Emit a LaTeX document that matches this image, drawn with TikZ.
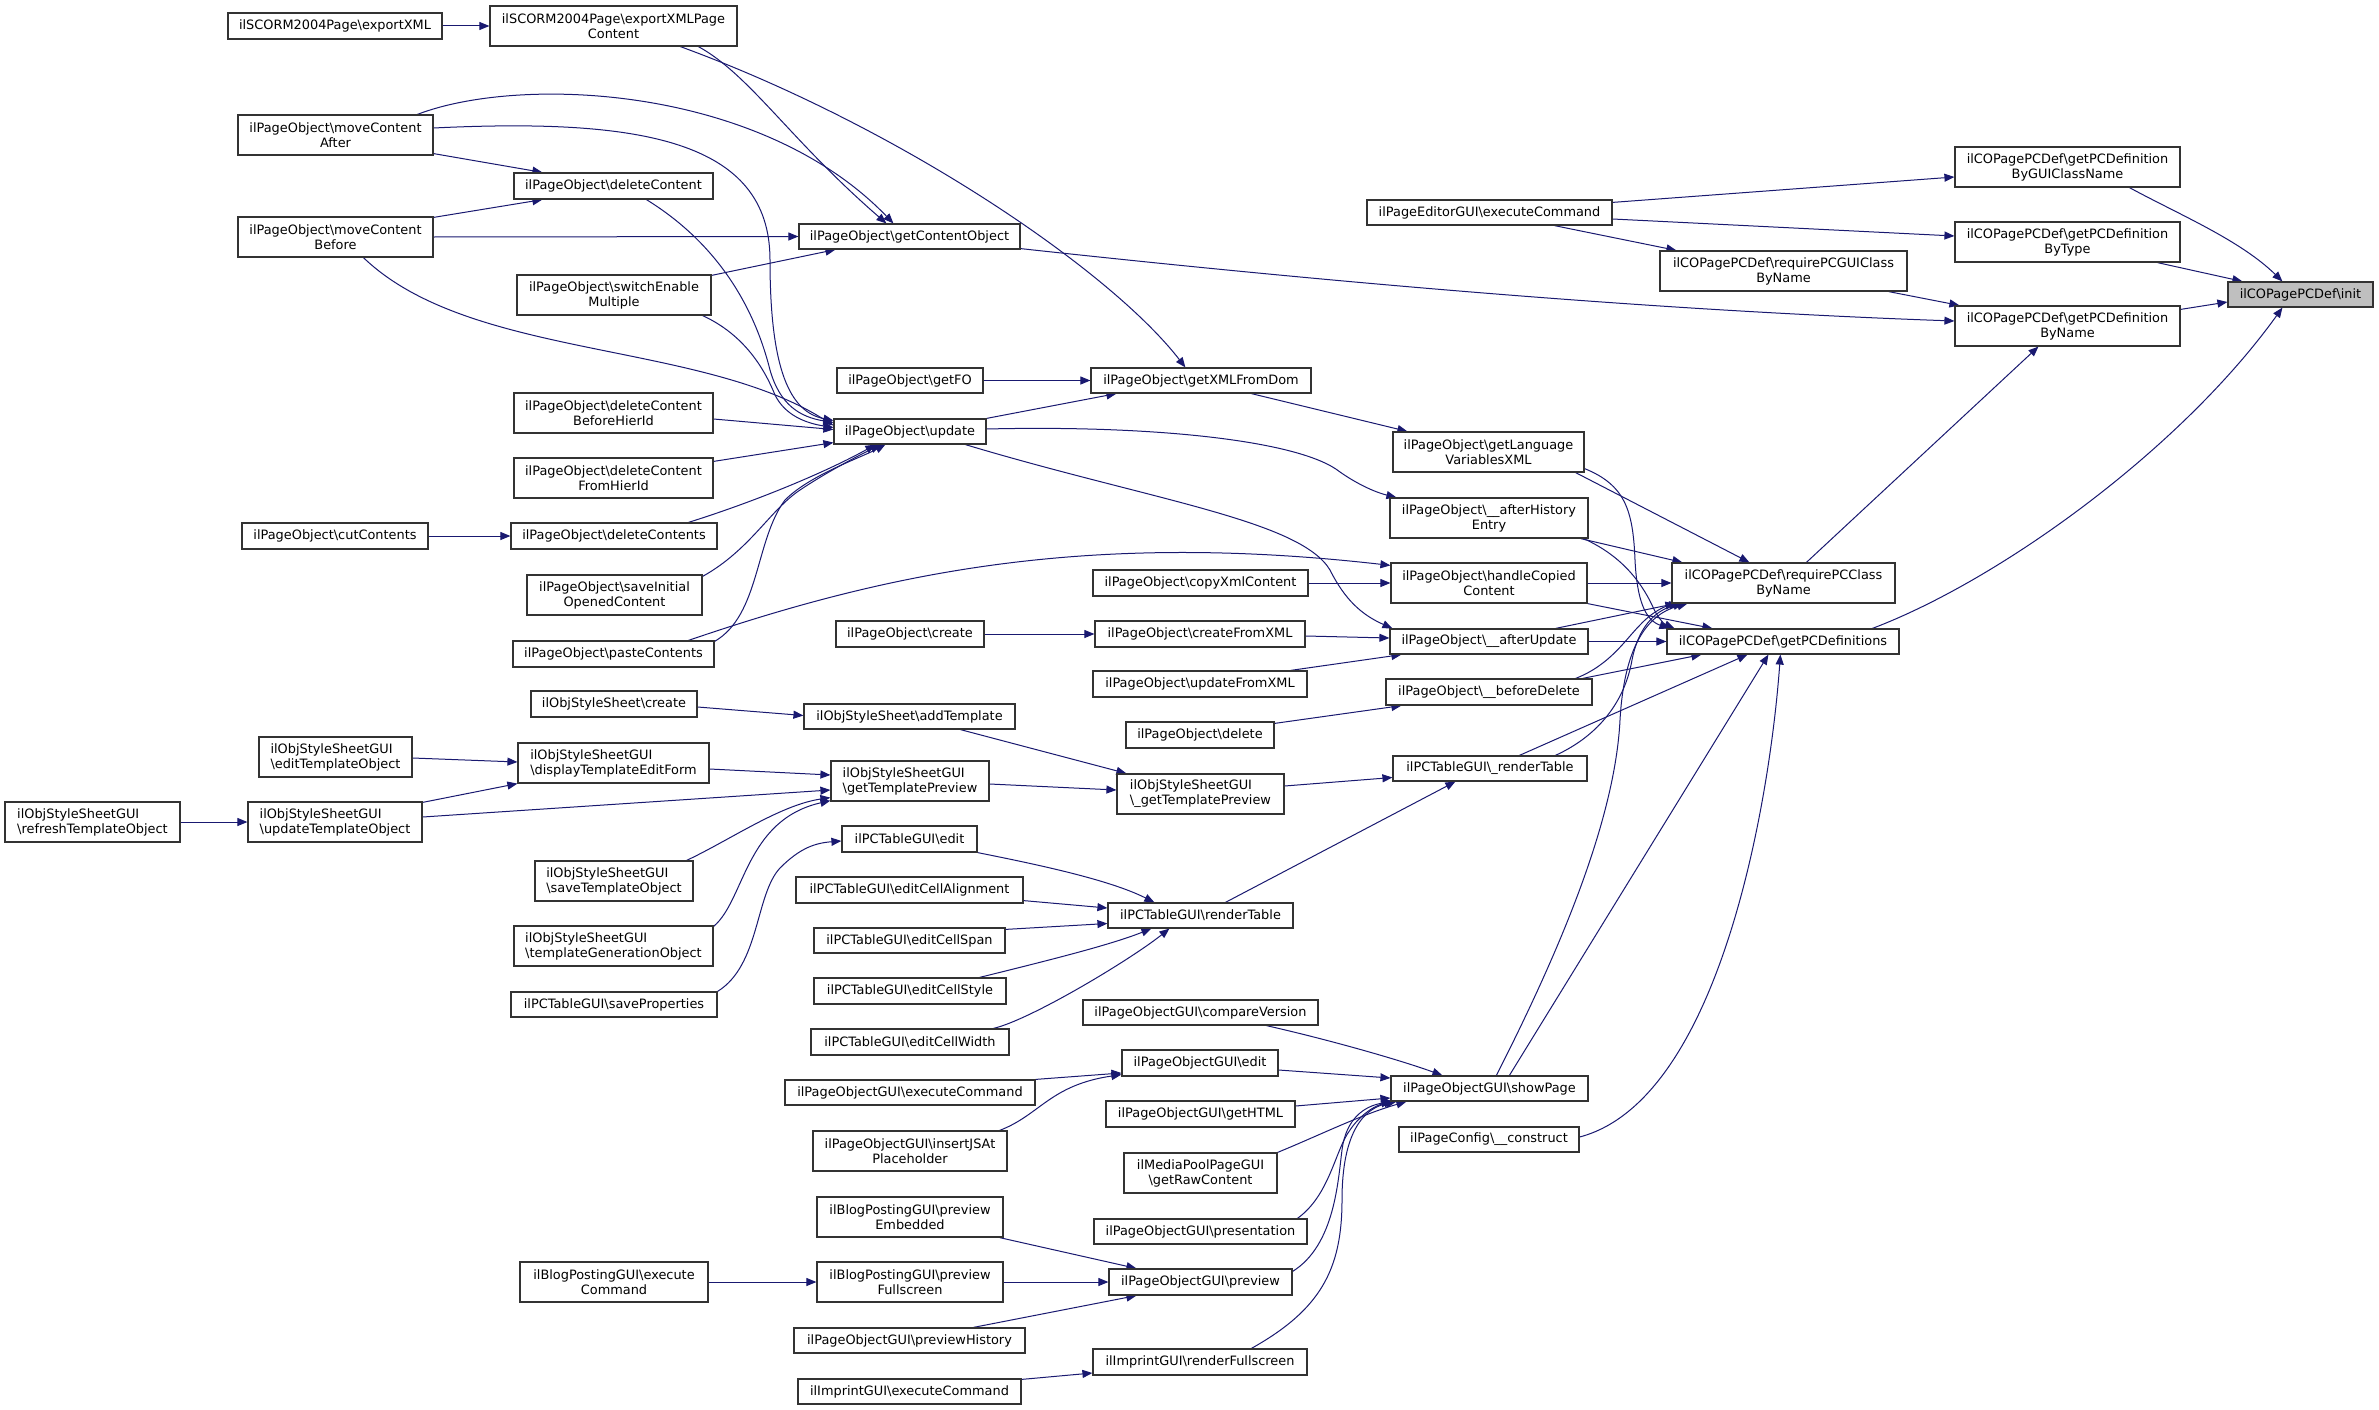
\documentclass[tikz,border=0pt]{standalone}
\usepackage{fontspec}
\setmainfont{DejaVu Sans}
\usetikzlibrary{arrows.meta,calc,backgrounds}
\definecolor{edgecol}{HTML}{191970}
\definecolor{boxgray}{HTML}{BFBFBF}
\newcommand\bks{\textbackslash}
\begin{document}
\begin{tikzpicture}[x=1pt,y=-1pt,
  box/.style={draw=black!80, line width=1.2pt, fill=white, inner sep=0pt, align=center, font=\fontsize{12.9}{15}\selectfont},
  sz/.style 2 args={minimum width=#1pt, minimum height=#2pt},
  ed/.style={draw=edgecol, line width=1pt, -{Triangle[length=10pt,width=8pt]}}]
\useasboundingbox (0,0) rectangle (2379,1410);
% column B
\node[box,sz={214}{26}] (exportXML) at (335,26) {ilSCORM2004Page\bks exportXML};
\node[box,sz={195}{40}] (mcAfter) at (335.5,135) {ilPageObject\bks moveContent\\After};
\node[box,sz={195}{40}] (mcBefore) at (335.5,237) {ilPageObject\bks moveContent\\Before};
\node[box,sz={186}{26}] (cutContents) at (335,536) {ilPageObject\bks cutContents};
\node[box,sz={153}{40},align=left] (editTO) at (335.5,757) {ilObjStyleSheetGUI\\\bks editTemplateObject};
\node[box,sz={174}{40},align=left] (updateTO) at (335,822) {ilObjStyleSheetGUI\\\bks updateTemplateObject};
\node[box,sz={175}{40},align=left] (refreshTO) at (92.5,822) {ilObjStyleSheetGUI\\\bks refreshTemplateObject};
% column C
\node[box,sz={247}{40}] (exportXMLPC) at (613.5,26) {ilSCORM2004Page\bks exportXMLPage\\Content};
\node[box,sz={199}{26}] (delContent) at (613.5,186) {ilPageObject\bks deleteContent};
\node[box,sz={194}{40}] (switchEM) at (614,295) {ilPageObject\bks switchEnable\\Multiple};
\node[box,sz={199}{40}] (dcBHI) at (613.5,413) {ilPageObject\bks deleteContent\\BeforeHierId};
\node[box,sz={199}{40}] (dcFHI) at (613.5,478) {ilPageObject\bks deleteContent\\FromHierId};
\node[box,sz={206}{26}] (delContents) at (614,536) {ilPageObject\bks deleteContents};
\node[box,sz={175}{40}] (saveInit) at (614.5,595) {ilPageObject\bks saveInitial\\OpenedContent};
\node[box,sz={201}{26}] (pasteContents) at (613.5,654) {ilPageObject\bks pasteContents};
\node[box,sz={166}{26}] (ossCreate) at (614,704) {ilObjStyleSheet\bks create};
\node[box,sz={191}{40},align=left] (dispTEF) at (613.5,763) {ilObjStyleSheetGUI\\\bks displayTemplateEditForm};
\node[box,sz={158}{40},align=left] (saveTO) at (614,881) {ilObjStyleSheetGUI\\\bks saveTemplateObject};
\node[box,sz={199}{40},align=left] (tplGen) at (613.5,946) {ilObjStyleSheetGUI\\\bks templateGenerationObject};
\node[box,sz={206}{25}] (saveProps) at (614,1004.5) {ilPCTableGUI\bks saveProperties};
\node[box,sz={188}{40}] (blogExec) at (614,1282) {ilBlogPostingGUI\bks execute\\Command};
% column D
\node[box,sz={221}{25}] (getContentObject) at (909.5,236.5) {ilPageObject\bks getContentObject};
\node[box,sz={146}{25}] (getFO) at (910,380.5) {ilPageObject\bks getFO};
\node[box,sz={152}{25}] (update) at (910,431.5) {ilPageObject\bks update};
\node[box,sz={148}{26}] (poCreate) at (910,634) {ilPageObject\bks create};
\node[box,sz={211}{25}] (addTemplate) at (909.5,716.5) {ilObjStyleSheet\bks addTemplate};
\node[box,sz={158}{40},align=left] (getTP) at (910,781) {ilObjStyleSheetGUI\\\bks getTemplatePreview};
\node[box,sz={135}{26}] (pctEdit) at (909.5,839) {ilPCTableGUI\bks edit};
\node[box,sz={227}{26}] (editCellAlign) at (909.5,890) {ilPCTableGUI\bks editCellAlignment};
\node[box,sz={191}{25}] (editCellSpan) at (909.5,940.5) {ilPCTableGUI\bks editCellSpan};
\node[box,sz={192}{26}] (editCellStyle) at (910,991) {ilPCTableGUI\bks editCellStyle};
\node[box,sz={198}{26}] (editCellWidth) at (910,1042) {ilPCTableGUI\bks editCellWidth};
\node[box,sz={250}{25}] (pogExec) at (910,1092.5) {ilPageObjectGUI\bks executeCommand};
\node[box,sz={194}{40}] (insertJS) at (910,1151) {ilPageObjectGUI\bks insertJSAt\\Placeholder};
\node[box,sz={186}{40}] (prevEmb) at (910,1217) {ilBlogPostingGUI\bks preview\\Embedded};
\node[box,sz={186}{40}] (prevFull) at (910,1282) {ilBlogPostingGUI\bks preview\\Fullscreen};
\node[box,sz={231}{25}] (prevHist) at (909.5,1340.5) {ilPageObjectGUI\bks previewHistory};
\node[box,sz={223}{25}] (imprExec) at (909.5,1391.5) {ilImprintGUI\bks executeCommand};
% column E
\node[box,sz={220}{25}] (getXMLFromDom) at (1201,380.5) {ilPageObject\bks getXMLFromDom};
\node[box,sz={215}{26}] (copyXml) at (1200.5,583) {ilPageObject\bks copyXmlContent};
\node[box,sz={210}{26}] (createFromXML) at (1200,634) {ilPageObject\bks createFromXML};
\node[box,sz={214}{26}] (updateFromXML) at (1200,684) {ilPageObject\bks updateFromXML};
\node[box,sz={148}{26}] (poDelete) at (1200,735) {ilPageObject\bks delete};
\node[box,sz={167}{40},align=left] (getTPu) at (1200.5,794) {ilObjStyleSheetGUI\\\bks\_getTemplatePreview};
\node[box,sz={185}{25}] (renderTable) at (1200.5,915.5) {ilPCTableGUI\bks renderTable};
\node[box,sz={235}{25}] (compareVersion) at (1200.5,1012.5) {ilPageObjectGUI\bks compareVersion};
\node[box,sz={156}{26}] (pogEdit) at (1200,1063) {ilPageObjectGUI\bks edit};
\node[box,sz={189}{26}] (getHTML) at (1200.5,1114) {ilPageObjectGUI\bks getHTML};
\node[box,sz={153}{40}] (getRawContent) at (1200.5,1173) {ilMediaPoolPageGUI\\\bks getRawContent};
\node[box,sz={213}{25}] (presentation) at (1200.5,1231.5) {ilPageObjectGUI\bks presentation};
\node[box,sz={183}{26}] (preview) at (1200.5,1282) {ilPageObjectGUI\bks preview};
\node[box,sz={214}{26}] (renderFullscreen) at (1200,1362) {ilImprintGUI\bks renderFullscreen};
% column F
\node[box,sz={245}{25}] (pedExec) at (1489.5,212.5) {ilPageEditorGUI\bks executeCommand};
\node[box,sz={191}{40}] (getLangVars) at (1488.5,452) {ilPageObject\bks getLanguage\\VariablesXML};
\node[box,sz={198}{40}] (afterHistory) at (1489,518) {ilPageObject\bks\_\_afterHistory\\Entry};
\node[box,sz={196}{40}] (handleCopied) at (1489,583) {ilPageObject\bks handleCopied\\Content};
\node[box,sz={198}{25}] (afterUpdate) at (1489,641.5) {ilPageObject\bks\_\_afterUpdate};
\node[box,sz={206}{26}] (beforeDelete) at (1489,692) {ilPageObject\bks\_\_beforeDelete};
\node[box,sz={194}{25}] (renderTableU) at (1490,768.5) {ilPCTableGUI\bks\_renderTable};
\node[box,sz={197}{25}] (showPage) at (1489.5,1088.5) {ilPageObjectGUI\bks showPage};
\node[box,sz={180}{25}] (pageConfig) at (1489,1139.5) {ilPageConfig\bks\_\_construct};
% column G
\node[box,sz={247}{40}] (reqPCGUI) at (1783.5,271) {ilCOPagePCDef\bks requirePCGUIClass\\ByName};
\node[box,sz={223}{40}] (reqPCClass) at (1783.5,583) {ilCOPagePCDef\bks requirePCClass\\ByName};
\node[box,sz={232}{25}] (getPCDefs) at (1783,641.5) {ilCOPagePCDef\bks getPCDefinitions};
% column H
\node[box,sz={225}{40}] (byGUI) at (2067.5,167) {ilCOPagePCDef\bks getPCDefinition\\ByGUIClassName};
\node[box,sz={225}{40}] (byType) at (2067.5,242) {ilCOPagePCDef\bks getPCDefinition\\ByType};
\node[box,sz={225}{40}] (byName) at (2067.5,326) {ilCOPagePCDef\bks getPCDefinition\\ByName};
% target
\node[box,sz={145}{25},fill=boxgray] (init) at (2300.5,294.5) {ilCOPagePCDef\bks init};

\begin{pgfonlayer}{background}
\fill[white] (0,0) rectangle (2379,1410);
\draw[ed] (exportXML.east) -- (exportXMLPC.west);
\draw[ed] ($(exportXMLPC.south west)+(209,0)$) .. controls (750,75) and (790,140) .. ($(getContentObject.north west)+(88,0)$);
\draw[ed] ($(exportXMLPC.south west)+(191,0)$) .. controls (900,127) and (1110,270) .. ($(getXMLFromDom.north west)+(95,0)$);
\draw[ed] ($(mcAfter.north west)+(180,0)$) .. controls (520,75) and (760,85) .. ($(getContentObject.north west)+(95,0)$);
\draw[ed] ($(mcAfter.east)+(0,-7)$) .. controls (640,118) and (770,140) .. (770,260) .. controls (770,370) and (790,412) .. ($(update.west)+(0,-11)$);
\draw[ed] ($(mcAfter.south east)+(0,-2)$) -- ($(delContent.north west)+(29,0)$);
\draw[ed] ($(mcBefore.north east)+(0,1)$) -- ($(delContent.south west)+(29,0)$);
\draw[ed] (mcBefore.east) -- (getContentObject.west);
\draw[ed] ($(mcBefore.south west)+(126,0)$) .. controls (470,360) and (700,340) .. ($(update.west)+(0,-6)$);
\draw[ed] ($(delContent.south west)+(133,0)$) .. controls (720,245) and (755,310) .. (770,370) .. controls (780,405) and (800,417) .. ($(update.west)+(0,-9)$);
\draw[ed] ($(switchEM.north east)+(0,1)$) -- ($(getContentObject.south west)+(37,0)$);
\draw[ed] ($(switchEM.south east)+(-9,0)$) .. controls (745,335) and (765,370) .. (775,395) .. controls (785,415) and (805,423) .. ($(update.west)+(0,-4)$);
\draw[ed] ($(dcBHI.east)+(0,6)$) -- ($(update.west)+(0,-2)$);
\draw[ed] ($(dcFHI.north east)+(0,4)$) -- ($(update.south west)+(0,-2)$);
\draw[ed] (cutContents.east) -- (delContents.west);
\draw[ed] ($(delContents.north west)+(178,0)$) .. controls (760,500) and (830,470) .. ($(update.south west)+(42,0)$);
\draw[ed] ($(saveInit.north east)+(0,2)$) .. controls (750,550) and (770,510) .. (800,490) .. controls (830,470) and (860,455) .. ($(update.south west)+(47,0)$);
\draw[ed] ($(pasteContents.north east)+(0,1)$) .. controls (760,615) and (755,540) .. (785,500) .. controls (810,475) and (860,458) .. ($(update.south west)+(52,0)$);
\draw[ed] ($(pasteContents.north west)+(176,0)$) .. controls (880,575) and (1080,530) .. ($(handleCopied.north west)+(0,3)$);
\draw[ed] (getFO.east) -- (getXMLFromDom.west);
\draw[ed] (update.north east) -- ($(getXMLFromDom.south west)+(26,0)$);
\draw[ed] ($(update.east)+(0,-2.5)$) .. controls (1150,425) and (1300,440) .. (1340,472) .. controls (1360,486) and (1378,493) .. ($(afterHistory.north west)+(7,0)$);
\draw[ed] ($(update.south west)+(132,0)$) .. controls (1150,500) and (1300,520) .. (1330,570) .. controls (1345,600) and (1362,615) .. ($(afterUpdate.north west)+(3,0)$);
\draw[ed] ($(getXMLFromDom.south west)+(161,0)$) -- ($(getLangVars.north west)+(15,0)$);
\draw[ed] (copyXml.east) -- (handleCopied.west);
\draw[ed] (poCreate.east) -- (createFromXML.west);
\draw[ed] ($(createFromXML.east)+(0,2)$) -- ($(afterUpdate.west)+(0,-3.5)$);
\draw[ed] ($(updateFromXML.north east)+(-17,0)$) -- ($(afterUpdate.south west)+(12,0)$);
\draw[ed] ($(poDelete.north east)+(0,2)$) -- ($(beforeDelete.south west)+(16,0)$);
\draw[ed] ($(ossCreate.east)+(0,3)$) -- ($(addTemplate.west)+(0,-1)$);
\draw[ed] ($(addTemplate.south west)+(157,0)$) -- ($(getTPu.north west)+(10,0)$);
\draw[ed] ($(editTO.east)+(0,1)$) -- ($(dispTEF.west)+(0,-1)$);
\draw[ed] ($(updateTO.north east)+(0,1)$) -- (dispTEF.south west);
\draw[ed] (refreshTO.east) -- (updateTO.west);
\draw[ed] ($(dispTEF.east)+(0,6)$) -- ($(getTP.west)+(0,-6)$);
\draw[ed] ($(updateTO.east)+(0,-5)$) -- ($(getTP.west)+(0,9)$);
\draw[ed] ($(saveTO.north east)+(-7,0)$) .. controls (730,840) and (780,805) .. ($(getTP.south west)+(0,-4)$);
\draw[ed] ($(tplGen.north east)+(0,1)$) .. controls (745,900) and (745,820) .. ($(getTP.south west)+(0,-1)$);
\draw[ed] ($(getTP.east)+(0,3)$) -- ($(getTPu.west)+(0,-4)$);
\draw[ed] ($(getTPu.east)+(0,-8)$) -- ($(renderTableU.west)+(0,9)$);
\draw[ed] ($(renderTable.north west)+(118,0)$) -- ($(renderTableU.south west)+(63,0)$);
\draw[ed] (saveProps.north east) .. controls (760,965) and (755,895) .. (780,868) .. controls (800,848) and (815,843) .. ($(pctEdit.west)+(0,2)$);
\draw[ed] (pctEdit.south east) .. controls (1040,865) and (1110,880) .. ($(renderTable.north west)+(47,0)$);
\draw[ed] ($(editCellAlign.south east)+(0,-3)$) -- ($(renderTable.west)+(0,-7.5)$);
\draw[ed] ($(editCellSpan.north east)+(0,2)$) -- ($(renderTable.west)+(0,8)$);
\draw[ed] ($(editCellStyle.north east)+(-27,0)$) .. controls (1050,960) and (1110,945) .. ($(renderTable.south west)+(44,0)$);
\draw[ed] ($(editCellWidth.north west)+(183,0)$) .. controls (1030,1020) and (1130,960) .. ($(renderTable.south west)+(62,0)$);
\draw[ed] ($(compareVersion.south west)+(184,0)$) .. controls (1330,1040) and (1400,1060) .. ($(showPage.north west)+(52,0)$);
\draw[ed] ($(pogEdit.east)+(0,7)$) -- ($(showPage.west)+(0,-10.5)$);
\draw[ed] ($(getHTML.east)+(0,-8)$) -- ($(showPage.west)+(0,9.5)$);
\draw[ed] (getRawContent.north east) .. controls (1320,1135) and (1360,1115) .. ($(showPage.south west)+(16,0)$);
\draw[ed] ($(presentation.north west)+(204,0)$) .. controls (1330,1195) and (1335,1150) .. (1350,1130) .. controls (1360,1115) and (1375,1105) .. ($(showPage.south west)+(4,0)$);
\draw[ed] ($(preview.north east)+(0,3)$) .. controls (1335,1245) and (1338,1180) .. (1342,1150) .. controls (1346,1118) and (1365,1106) .. ($(showPage.south west)+(1,0)$);
\draw[ed] ($(renderFullscreen.north west)+(159,0)$) .. controls (1320,1310) and (1342,1270) .. (1342,1200) .. controls (1342,1130) and (1365,1108) .. ($(showPage.south west)+(6,0)$);
\draw[ed] (pogExec.north east) -- ($(pogEdit.west)+(0,10)$);
\draw[ed] ($(insertJS.north east)+(-8,0)$) .. controls (1040,1115) and (1050,1085) .. ($(pogEdit.south west)+(0,-2)$);
\draw[ed] ($(prevEmb.south east)+(-4,0)$) -- ($(preview.north west)+(28,0)$);
\draw[ed] (prevFull.east) -- (preview.west);
\draw[ed] ($(prevHist.north west)+(180,0)$) -- ($(preview.south west)+(28,0)$);
\draw[ed] (blogExec.east) -- (prevFull.west);
\draw[ed] ($(imprExec.north east)+(0,1)$) -- ($(renderFullscreen.west)+(0,11)$);
\draw[ed] ($(pedExec.north east)+(0,3)$) -- ($(byGUI.west)+(0,10)$);
\draw[ed] ($(pedExec.east)+(0,6.5)$) -- ($(byType.west)+(0,-6)$);
\draw[ed] ($(pedExec.south west)+(188,0)$) -- ($(reqPCGUI.north west)+(17,0)$);
\draw[ed] ($(getContentObject.south east)+(0,-1)$) .. controls (1400,290) and (1700,312) .. ($(byName.west)+(0,-5)$);
\draw[ed] ($(reqPCGUI.south east)+(-19,0)$) -- ($(byName.north west)+(5,0)$);
\draw[ed] ($(byGUI.south west)+(175,0)$) .. controls (2180,215) and (2240,240) .. ($(init.north west)+(55,0)$);
\draw[ed] ($(byType.south west)+(203,0)$) -- ($(init.north west)+(15,0)$);
\draw[ed] ($(byName.north east)+(0,4)$) -- ($(init.west)+(0,7.5)$);
\draw[ed] ($(reqPCClass.north west)+(135,0)$) -- ($(byName.south west)+(84,0)$);
\draw[ed] ($(getPCDefs.north west)+(206,0)$) .. controls (2000,580) and (2180,450) .. ($(init.south west)+(55,0)$);
\draw[ed] ($(getLangVars.south east)+(-9,0)$) -- ($(reqPCClass.north west)+(78,0)$);
\draw[ed] ($(getLangVars.south east)+(0,-4)$) .. controls (1625,485) and (1633,510) .. (1635,560) .. controls (1637,600) and (1645,620) .. ($(getPCDefs.north west)+(3,0)$);
\draw[ed] ($(afterHistory.south east)+(-8,0)$) -- ($(reqPCClass.north west)+(11,0)$);
\draw[ed] ($(afterHistory.south east)+(-5,0)$) .. controls (1620,555) and (1640,580) .. (1652,605) .. controls (1657,617) and (1664,624) .. ($(getPCDefs.north west)+(8,0)$);
\draw[ed] (handleCopied.east) -- (reqPCClass.west);
\draw[ed] (handleCopied.south east) -- ($(getPCDefs.north west)+(46,0)$);
\draw[ed] (afterUpdate.east) -- (getPCDefs.west);
\draw[ed] ($(afterUpdate.north east)+(-33,0)$) -- ($(reqPCClass.south west)+(4,0)$);
\draw[ed] ($(beforeDelete.north east)+(-10,0)$) -- ($(getPCDefs.south west)+(35,0)$);
\draw[ed] ($(beforeDelete.north east)+(-17,0)$) .. controls (1610,665) and (1625,640) .. (1640,625) .. controls (1652,612) and (1665,606) .. ($(reqPCClass.south west)+(8,0)$);
\draw[ed] ($(renderTableU.north west)+(127,0)$) -- ($(getPCDefs.south west)+(81,0)$);
\draw[ed] ($(renderTableU.north west)+(163,0)$) .. controls (1600,735) and (1625,700) .. (1632,660) .. controls (1638,628) and (1655,610) .. ($(reqPCClass.south west)+(12,0)$);
\draw[ed] ($(showPage.north west)+(106,0)$) .. controls (1560,950) and (1615,820) .. (1620,720) .. controls (1624,650) and (1645,615) .. ($(reqPCClass.south west)+(16,0)$);
\draw[ed] ($(showPage.north west)+(119,0)$) -- ($(getPCDefs.south west)+(102,0)$);
\draw[ed] ($(pageConfig.east)+(0,-2.5)$) .. controls (1720,1100) and (1770,800) .. ($(getPCDefs.south west)+(114,0)$);
\end{pgfonlayer}
\end{tikzpicture}
\end{document}
